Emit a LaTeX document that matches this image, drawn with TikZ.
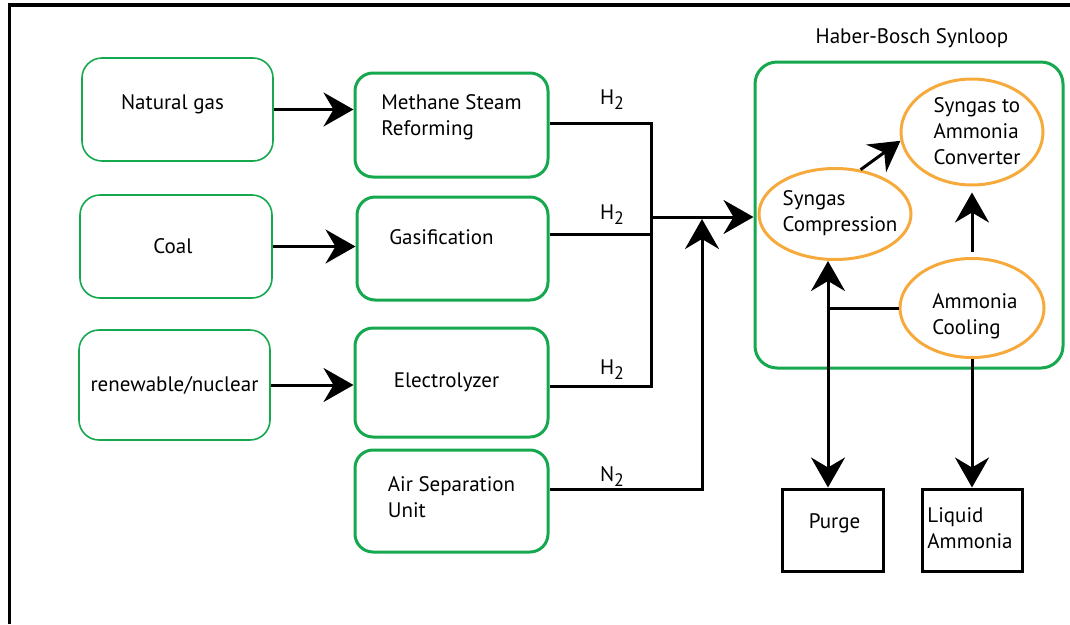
\documentclass[tikz,border=0pt]{standalone}
\usepackage{fontspec}
\setmainfont{PT Sans}
\usetikzlibrary{arrows.meta,shapes.geometric}
\definecolor{gboxc}{RGB}{22,168,78}
\definecolor{orng}{RGB}{247,170,60}
\newcommand{\fs}{\fontsize{21pt}{26pt}\selectfont}
\newcommand{\subtwo}{\raisebox{-5pt}{\fontsize{18pt}{18pt}\selectfont 2}}
\tikzset{
  srcbox/.style={draw=gboxc,line width=1.6pt,rounded corners=20pt,align=center,font=\fs},
  procbox/.style={draw=gboxc,line width=3pt,rounded corners=18pt,align=left,font=\fs},
  ellbox/.style={ellipse,draw=orng,line width=3pt,align=left,font=\fs,inner sep=0pt},
  outbox/.style={draw=black,line width=3pt,align=left,font=\fs},
  lbl/.style={font=\fs,align=left},
  conn/.style={draw=black,line width=3pt},
  arr/.style={conn,-{Stealth[length=30pt,width=34pt,inset=10pt]}}
}
\begin{document}
\begin{tikzpicture}[x=1pt,y=-1pt]
\useasboundingbox (0,0) rectangle (1070,624);
% frame
\draw[line width=3.5pt] (9.5,624) -- (9.5,5) -- (1070,5);
% source boxes
\node[srcbox,minimum width=191pt,minimum height=103pt,
  label={[lbl,name=ngt,xshift=-5pt,yshift=5pt]center:Natural gas}] (ng) at (177.5,109.5) {};
\node[srcbox,minimum width=192pt,minimum height=103pt,
  label={[lbl,name=coalt,xshift=-3pt]center:Coal}] (coal) at (176,246.5) {};
\node[srcbox,minimum width=191pt,minimum height=110pt,
  label={[lbl,name=rent]center:renewable/nuclear}] (ren) at (174.5,385) {};
% process boxes
\node[procbox,minimum width=193pt,minimum height=104pt,
  label={[lbl,name=msrt,yshift=8pt]center:Methane Steam\\Reforming}] (msr) at (451.5,125) {};
\node[procbox,minimum width=191pt,minimum height=103pt,
  label={[lbl,name=gast,xshift=-11pt,yshift=11pt]center:Gasification}] (gas) at (452.5,248.5) {};
\node[procbox,minimum width=193pt,minimum height=109pt,
  label={[lbl,name=elyt,xshift=-5pt]center:Electrolyzer}] (ely) at (451.5,382.5) {};
\node[procbox,minimum width=193pt,minimum height=102pt,
  label={[lbl,name=asut,yshift=4pt]center:Air Separation\\Unit}] (asu) at (451.5,501) {};
% synloop
\node[draw=gboxc,line width=3pt,rounded corners=22pt,minimum width=308pt,minimum height=306pt] (loop) at (909,215) {};
\node[lbl] (title) at (912,38) {Haber-Bosch Synloop};
\node[ellbox,minimum width=152pt,minimum height=91pt,
  label={[lbl,name=compt,xshift=5pt,yshift=1pt]center:Syngas\\Compression}] (comp) at (835,214) {};
\node[ellbox,minimum width=142pt,minimum height=106pt,
  label={[lbl,name=convt,xshift=5pt,yshift=1pt]center:Syngas to\\Ammonia\\Converter}] (conv) at (972,132) {};
\node[ellbox,minimum width=144pt,minimum height=99pt,
  label={[lbl,name=coolt,xshift=3pt,yshift=-8pt]center:Ammonia\\Cooling}] (cool) at (972,308) {};
% outputs
\node[outbox,minimum width=101pt,minimum height=82pt,
  label={[lbl,name=purget,xshift=2pt,yshift=7pt]center:Purge}] (purge) at (832.5,530) {};
\node[outbox,minimum width=100pt,minimum height=82pt,
  label={[lbl,name=liqt,xshift=-2pt,yshift=2pt]center:Liquid\\Ammonia}] (liq) at (972,530) {};
% feed arrows
\draw[arr] (ng.east) -- (ng.east -| msr.west);
\draw[arr] (coal.east) -- (coal.east -| gas.west);
\draw[arr] (ren.east) -- (ren.east -| ely.west);
% H2 collector
\coordinate (jt) at (651,123);
\coordinate (jg) at (651,234);
\coordinate (jb) at (651,386);
\coordinate (jm) at (651,217);
\draw[conn] (msr.east |- jt) -- (jt) -- (jb) -- (ely.east |- jb);
\draw[conn] (gas.east |- jg) -- (jg);
\draw[arr] (jm) -- (jm -| loop.west);
\coordinate (n2) at (702,489);
\coordinate (nt) at (702,219);
\draw[arr] (asu.east |- n2) -- (n2) -- (nt);
\node[lbl] (h2a) at (612,100) {H\subtwo};
\node[lbl] (h2b) at (612,215) {H\subtwo};
\node[lbl] (h2c) at (612,370) {H\subtwo};
\node[lbl] (n2l) at (612,477) {N\subtwo};
% loop internals
\draw[arr] (comp.60) -- (conv.187);
\draw[arr,shorten <=5pt,shorten >=6pt] (cool.north) -- (conv.south);
\coordinate (pv) at (828,308);
\draw[conn] (cool.west) -- (pv);
\draw[arr] (pv) -- (pv |- comp.south);
\draw[arr] (pv) -- (pv |- purge.north);
\draw[arr] (cool.south) -- (cool.south |- liq.north);
\end{tikzpicture}
\end{document}
